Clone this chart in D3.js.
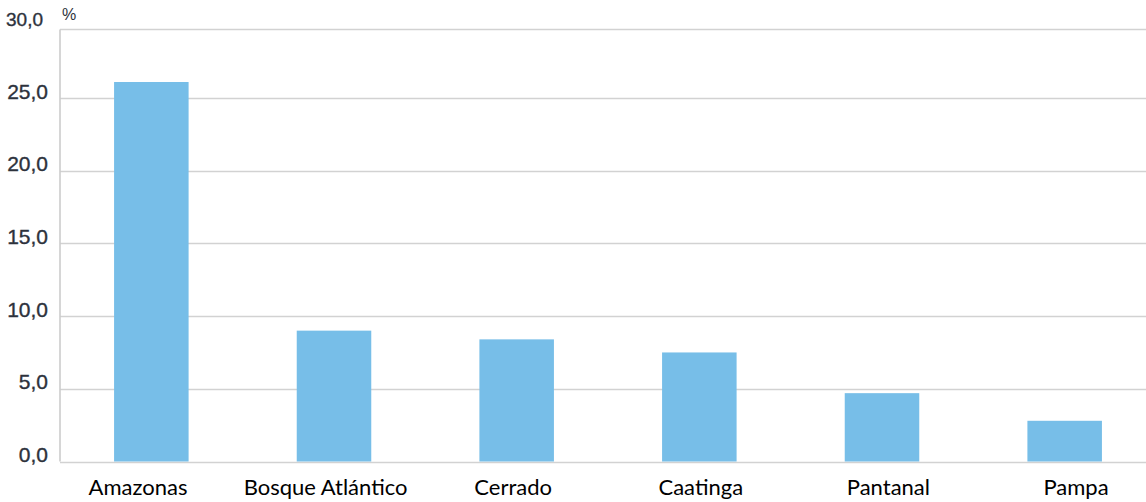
<!DOCTYPE html>
<html>
<head>
<meta charset="utf-8">
<script src="https://cdn.jsdelivr.net/npm/d3@7"></script>
<style>
  html, body { margin: 0; padding: 0; background: #ffffff; }
  svg { display: block; }
</style>
</head>
<body>
<svg id="chart" width="1146" height="502"></svg>
<script>
// Biomes and their share (%)
const biomes = ["Amazonas", "Bosque Atlántico", "Cerrado", "Caatinga", "Pantanal", "Pampa"];
const shares = [26.1, 9.0, 8.4, 7.5, 4.7, 2.8];
const yTicks = [0, 5, 10, 15, 20, 25, 30];
const unitLabel = "%";

const W = 1146, H = 502;
const svg = d3.select("#chart");

const plot = { left: 60, top: 29.5, bottom: 461.5, right: W };

const y = d3.scaleLinear().domain([0, 30]).range([plot.bottom, 25.3]);
const x = d3.scaleBand().domain(biomes).range([60, 1156]).padding(0);
const xLabel = d3.scaleBand().domain(biomes).range([44.2, 1169.8]).padding(0);
const barW = x.bandwidth() * 0.408;

const fmt = v => d3.format(".1f")(v).replace(".", ",");

// Horizontal gridlines (0..25) and top frame line
const gridVals = yTicks.filter(v => v < 30);
svg.append("g")
  .selectAll("line")
  .data(gridVals)
  .join("line")
  .attr("x1", plot.left).attr("x2", plot.right)
  .attr("y1", d => Math.round(y(d)) + 0.5).attr("y2", d => Math.round(y(d)) + 0.5)
  .attr("stroke", "#d2d2d2").attr("stroke-width", 1.6);

svg.append("line")
  .attr("x1", plot.left).attr("x2", plot.right)
  .attr("y1", plot.top).attr("y2", plot.top)
  .attr("stroke", "#d2d2d2").attr("stroke-width", 1.6);

// Left axis line
svg.append("line")
  .attr("x1", plot.left).attr("x2", plot.left)
  .attr("y1", plot.top).attr("y2", plot.bottom)
  .attr("stroke", "#cccccc").attr("stroke-width", 1.6);

// Bars
svg.append("g")
  .selectAll("rect")
  .data(biomes)
  .join("rect")
  .attr("x", d => x(d) + x.bandwidth() / 2 - barW / 2)
  .attr("width", barW)
  .attr("y", (d, i) => y(shares[i]))
  .attr("height", (d, i) => plot.bottom - y(shares[i]))
  .attr("fill", "#77bee8");

// Y tick labels (the top one sits beside the unit sign, slightly smaller)
svg.append("g")
  .selectAll("text")
  .data(yTicks)
  .join("text")
  .attr("x", d => d === 30 ? 43 : 48)
  .attr("y", d => d === 30 ? 20.5 : y(d) - 5)
  .attr("text-anchor", "end")
  .attr("dominant-baseline", "middle")
  .attr("font-family", "'Liberation Sans', Arial, sans-serif")
  .attr("font-size", d => d === 30 ? 19 : 21)
  .attr("fill", "#2d323c")
  .attr("stroke", "#2d323c")
  .attr("stroke-width", 0.35)
  .text(fmt);

// Unit label
svg.append("text")
  .attr("x", 62).attr("y", 20)
  .attr("font-family", "'Liberation Sans', Arial, sans-serif")
  .attr("font-size", 16)
  .attr("fill", "#2d323c")
  .text(unitLabel);

// Category labels
svg.append("g")
  .selectAll("text")
  .data(biomes)
  .join("text")
  .attr("x", d => xLabel(d) + xLabel.bandwidth() / 2)
  .attr("y", 495)
  .attr("text-anchor", "middle")
  .attr("font-family", "Lato, 'Open Sans', sans-serif")
  .attr("font-size", 22)
  .attr("fill", "#000000")
  .text(d => d);
</script>
</body>
</html>
